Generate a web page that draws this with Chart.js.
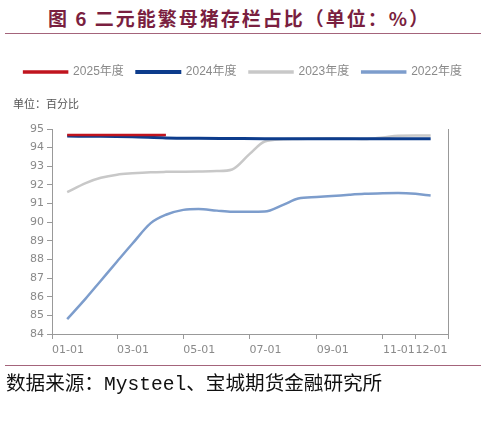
<!DOCTYPE html>
<html>
<head>
<meta charset="utf-8">
<script src="https://cdn.jsdelivr.net/npm/chart.js@4.4.1/dist/chart.umd.min.js"></script>
<style>
  body { margin: 0; background: #fff; width: 486px; height: 423px; position: relative; overflow: hidden; }
  .title { position: absolute; left: 48px; top: 4px; font: bold 19px "Noto Sans CJK SC", sans-serif; color: #7a1f40; letter-spacing: 2px; white-space: pre; }
  .rule { position: absolute; left: 5px; width: 476px; height: 1px; background: #a4647b; }
  .unit { position: absolute; left: 13px; top: 95px; font: 11px "Noto Sans CJK SC", sans-serif; color: #555; }
  .source { position: absolute; left: 6px; top: 367px; font: 19.6px "Liberation Mono", "Noto Sans CJK SC", monospace; color: #111; white-space: pre; }
  #wrap { position: absolute; left: 0; top: 0; width: 486px; height: 372px; }
</style>
</head>
<body>
<div class="title">图 6 二元能繁母猪存栏占比（单位：%）</div>
<div class="rule" style="top:33px"></div>
<div id="wrap"><canvas id="sowChart"></canvas></div>
<div class="unit">单位：百分比</div>
<div class="rule" style="top:365px"></div>
<div class="source">数据来源：Mysteel、宝城期货金融研究所</div>
<script>
// x轴刻度 (月-日)
const tickDates = ['01-01', '03-01', '05-01', '07-01', '09-01', '11-01', '12-01', '12-31'];
const tickLabels = ['01-01', '03-01', '05-01', '07-01', '09-01', '11-01', '12-01', ''];

// 半月采样点 (2022/2023) 与月度点 (2024/2025)
const halfMonthDates = ['01-15', '02-01', '02-15', '03-01', '03-15', '04-01', '04-15', '05-01', '05-15',
  '06-01', '06-15', '07-01', '07-15', '08-01', '08-15', '09-01', '09-15', '10-01', '10-15',
  '11-01', '11-15', '12-01', '12-15'];
const monthDates = ['01-15', '02-15', '03-15', '04-15', '05-15', '06-15', '07-15', '08-15', '09-15', '10-15', '11-15', '12-15'];

const values2025 = [94.68, 94.68, 94.68, 94.68];
const values2024 = [94.62, 94.61, 94.58, 94.52, 94.5, 94.49, 94.48, 94.48, 94.48, 94.48, 94.48, 94.48];
const values2023 = [91.61, 92.1, 92.38, 92.55, 92.62, 92.68, 92.7, 92.71, 92.72, 92.74, 92.83, 93.65,
  94.33, 94.45, 94.47, 94.49, 94.5, 94.49, 94.46, 94.55, 94.64, 94.65, 94.65];
const values2022 = [84.8, 85.9, 86.86, 87.89, 88.84, 89.95, 90.4, 90.66, 90.71, 90.62, 90.56, 90.56,
  90.57, 90.93, 91.27, 91.35, 91.4, 91.47, 91.52, 91.55, 91.56, 91.52, 91.43];

// 以闰年为基准把 MM-DD 换成年内第几天
const dayOfYear = (md) => {
  const [m, d] = md.split('-').map(Number);
  return (Date.UTC(2024, m - 1, d) - Date.UTC(2024, 0, 1)) / 864e5;
};
const toPoints = (dates, values) => values.map((v, i) => ({ x: dayOfYear(dates[i]), y: v }));

const tickDays = tickDates.map(dayOfYear);
const legendFont = '"Liberation Sans", "Noto Sans CJK SC", sans-serif';
const tickFont = '"DejaVu Sans", sans-serif';
const axisColor = '#999999';

const makeSeries = (label, dates, values, color, width) => ({
  label: label,
  data: toPoints(dates, values),
  borderColor: color,
  backgroundColor: color,
  borderWidth: width,
  pointRadius: 0,
  cubicInterpolationMode: 'monotone',
  fill: false
});

const ctx = document.getElementById('sowChart').getContext('2d');
new Chart(ctx, {
  type: 'line',
  data: {
    datasets: [
      makeSeries('2025年度', monthDates, values2025, '#c0141e', 2.5),
      makeSeries('2024年度', monthDates, values2024, '#0d3c8c', 3),
      makeSeries('2023年度', halfMonthDates, values2023, '#c8c8c8', 2.5),
      makeSeries('2022年度', halfMonthDates, values2022, '#7d9dcc', 2.5)
    ]
  },
  options: {
    responsive: true,
    maintainAspectRatio: false,
    animation: false,
    layout: { padding: { top: 53, bottom: 10, left: 0, right: 0 } },
    plugins: {
      legend: {
        position: 'top',
        labels: {
          boxWidth: 43,
          boxHeight: 1,
          padding: 13,
          color: '#8a8a8a',
          font: { family: legendFont, size: 12 }
        }
      },
      tooltip: { enabled: false }
    },
    scales: {
      x: {
        type: 'linear',
        min: 0,
        max: 365,
        afterBuildTicks: (scale) => { scale.ticks = tickDays.map(v => ({ value: v })); },
        afterFit: (scale) => { scale.height = 28; },
        ticks: {
          align: 'start',
          autoSkip: false,
          maxRotation: 0,
          padding: 5,
          color: '#8a8a8a',
          font: { family: tickFont, size: 11 },
          callback: (value) => tickLabels[tickDays.indexOf(value)] ?? ''
        },
        grid: { drawOnChartArea: false, tickLength: 5, color: axisColor },
        border: { color: axisColor }
      },
      xTop: {
        type: 'linear',
        position: 'top',
        afterFit: (scale) => { scale.height = 41; },
        ticks: { display: false },
        grid: { display: false },
        border: { display: false }
      },
      y: {
        min: 84,
        max: 95,
        afterFit: (scale) => { scale.width = 52; },
        ticks: {
          stepSize: 1,
          padding: 3,
          color: '#8a8a8a',
          font: { family: tickFont, size: 11 }
        },
        grid: { drawOnChartArea: false, tickLength: 5, color: axisColor },
        border: { color: axisColor }
      },
      y2: {
        position: 'right',
        afterFit: (scale) => { scale.width = 38; },
        ticks: { display: false },
        grid: { display: false },
        border: { color: axisColor }
      }
    }
  }
});
</script>
</body>
</html>
